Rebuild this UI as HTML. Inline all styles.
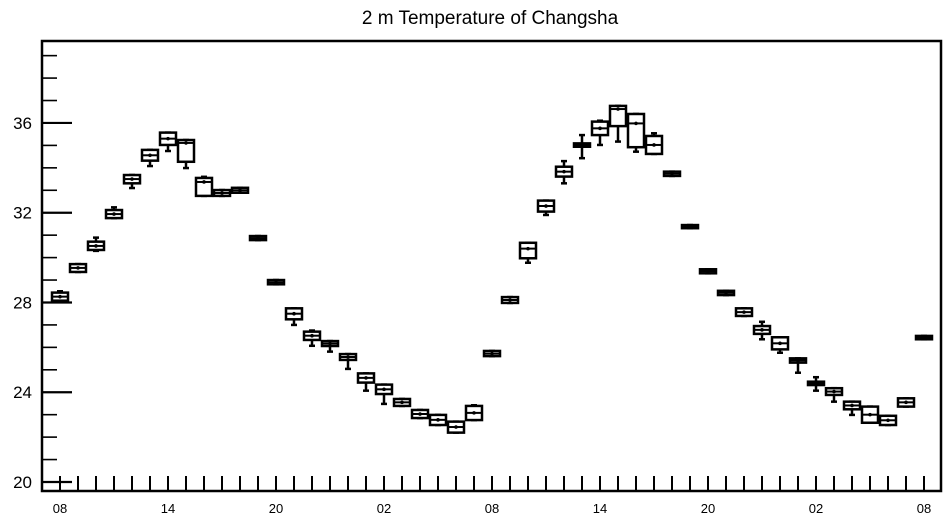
<!DOCTYPE html>
<html><head><meta charset="utf-8"><style>
html,body{margin:0;padding:0;background:#fff;}
svg{display:block;font-family:"Liberation Sans",Arial,sans-serif;}
</style></head><body>
<svg id="chart" width="947" height="520" viewBox="0 0 947 520" xmlns="http://www.w3.org/2000/svg">
<text x="490" y="24" font-size="19" text-anchor="middle">2 m Temperature of Changsha</text>
<rect x="42" y="41" width="899" height="450" fill="none" stroke="#000" stroke-width="2.5"/>
<g id="axes"></g>
<g id="boxes"></g>
</svg>
<script>
const xTickLabels = ["08","14","20","02","08","14","20","02","08"];
const yTickLabels = ["20","24","28","32","36"];
const boxLow = [28.08,29.36,30.34,31.76,33.31,34.32,35.02,34.27,32.75,32.75,32.89,30.78,28.81,27.25,26.33,26.06,25.44,24.43,23.92,23.39,22.85,22.54,22.20,22.76,25.61,27.98,29.97,32.05,33.61,34.94,35.46,35.86,34.92,34.62,33.64,31.31,29.30,28.33,27.40,26.60,25.91,25.32,24.32,23.88,23.24,22.64,22.54,23.36,26.36];
const boxHigh = [28.44,29.71,30.71,32.12,33.68,34.80,35.57,35.24,33.55,33.01,33.11,30.96,29.00,27.74,26.70,26.28,25.70,24.84,24.34,23.70,23.21,22.99,22.69,23.39,25.84,28.24,30.66,32.54,34.05,35.09,36.06,36.76,36.40,35.42,33.83,31.45,29.48,28.52,27.74,26.95,26.45,25.51,24.47,24.18,23.58,23.36,22.95,23.73,26.51];
const whiskerLow = [28.08,29.36,30.30,31.76,33.10,34.08,34.75,33.99,32.75,32.75,32.89,30.78,28.81,27.00,26.07,25.81,25.04,24.07,23.48,23.39,22.85,22.54,22.20,22.76,25.61,27.98,29.77,31.90,33.31,34.43,35.02,35.17,34.72,34.62,33.64,31.31,29.30,28.33,27.40,26.36,25.76,24.87,24.07,23.58,22.99,22.64,22.54,23.36,26.36];
const whiskerHigh = [28.50,29.71,30.89,32.24,33.68,34.80,35.57,35.24,33.60,33.01,33.11,30.96,29.00,27.74,26.75,26.28,25.70,24.84,24.34,23.70,23.21,22.99,22.69,23.42,25.84,28.24,30.66,32.54,34.30,35.46,36.10,36.76,36.40,35.54,33.83,31.45,29.48,28.52,27.74,27.14,26.45,25.51,24.67,24.18,23.58,23.36,22.95,23.73,26.51];
const medians = [28.26,29.54,30.52,31.94,33.50,34.56,35.30,35.11,33.37,32.88,33.00,30.87,28.90,27.50,26.52,26.17,25.57,24.64,24.13,23.55,23.03,22.77,22.45,23.08,25.72,28.11,30.40,32.30,33.83,35.02,35.76,36.62,35.98,35.02,33.74,31.38,29.39,28.43,27.57,26.78,26.18,25.42,24.40,24.03,23.41,23.00,22.75,23.55,26.44];

const NS="http://www.w3.org/2000/svg";
const X0=60, XSTEP=18, Y20=482, PXU=22.44;
function xs(i){return X0+XSTEP*i;}
function ys(v){return Y20-(v-20)*PXU;}
function mk(tag,attrs,parent){const e=document.createElementNS(NS,tag);for(const k in attrs)e.setAttribute(k,attrs[k]);parent.appendChild(e);return e;}
const axes=document.getElementById('axes');
// y ticks
for(let v=20; v<=39; v++){
  const major=(v%4===0);
  const t=mk('line',{x1:42,x2:major?72:57,y1:ys(v),y2:ys(v),stroke:'#000','stroke-width':major?2.2:1.6},axes);
  
  
}
yTickLabels.forEach(function(lab){
  const t=mk('text',{x:32,y:ys(+lab)+6,'font-size':17,'text-anchor':'end'},axes);
  t.textContent=lab;
  
  
});
// x ticks
for(let i=0;i<boxLow.length;i++){
  const t=mk('line',{x1:xs(i),x2:xs(i),y1:491,y2:476,stroke:'#000','stroke-width':2},axes);
  
  
}
xTickLabels.forEach(function(lab,k){
  const t=mk('text',{x:xs(k*6),y:513,'font-size':13,'text-anchor':'middle'},axes);
  t.textContent=lab;
  
  
});
// boxes
const boxes=document.getElementById('boxes');
for(let i=0;i<boxLow.length;i++){
  const g=mk('g',{},boxes);
  
  
  const cx=xs(i), w=16;
  const yh=ys(boxHigh[i]), yl=ys(boxLow[i]);
  mk('line',{x1:cx,x2:cx,y1:ys(whiskerHigh[i]),y2:yh,stroke:'#000','stroke-width':2.5},g);
  mk('line',{x1:cx,x2:cx,y1:yl,y2:ys(whiskerLow[i]),stroke:'#000','stroke-width':2.5},g);
  mk('line',{x1:cx-3,x2:cx+3,y1:ys(whiskerLow[i]),y2:ys(whiskerLow[i]),stroke:'#000','stroke-width':2.5},g);
  mk('line',{x1:cx-3,x2:cx+3,y1:ys(whiskerHigh[i]),y2:ys(whiskerHigh[i]),stroke:'#000','stroke-width':2.5},g);
  mk('rect',{x:cx-w/2,y:yh,width:w,height:Math.max(yl-yh,1.5),fill:'#fff',stroke:'#000','stroke-width':2.5},g);
  mk('line',{x1:cx-w/2,x2:cx+w/2,y1:ys(medians[i]),y2:ys(medians[i]),stroke:'#000','stroke-width':2},g);
  mk('circle',{cx:cx,cy:ys(medians[i]),r:1.8,fill:'#000'},g);
}
</script>
</body></html>
